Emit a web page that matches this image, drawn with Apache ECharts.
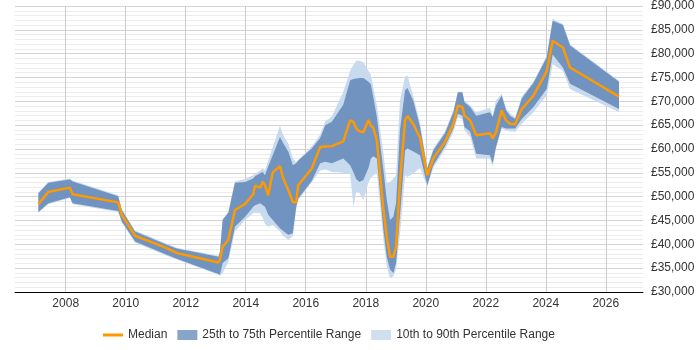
<!DOCTYPE html>
<html>
<head>
<meta charset="utf-8">
<script src="https://cdn.jsdelivr.net/npm/echarts@6/dist/echarts.min.js"></script>
<style>
  html, body { margin: 0; padding: 0; background: #fff; }
  #chart { width: 700px; height: 350px; }
</style>
</head>
<body>
<div id="chart"></div>
<script>
  // dates as decimal years
  const dates = [2007.09, 2007.42, 2008.14, 2008.23, 2009.75, 2009.87, 2010.31, 2011.37, 2011.70, 2013.09,
    2013.14, 2013.23, 2013.42, 2013.64, 2013.98, 2014.25, 2014.31, 2014.48, 2014.57, 2014.64,
    2014.75, 2014.90, 2015.14, 2015.25, 2015.42, 2015.57, 2015.68, 2015.75, 2016.20, 2016.48,
    2016.65, 2016.87, 2017.25, 2017.48, 2017.59, 2017.68, 2017.79, 2017.92, 2018.09, 2018.17,
    2018.25, 2018.37, 2018.59, 2018.70, 2018.81, 2018.92, 2019.01, 2019.14, 2019.31, 2019.39,
    2019.59, 2019.81, 2020.05, 2020.25, 2020.64, 2020.92, 2021.07, 2021.22, 2021.29, 2021.48,
    2021.68, 2022.14, 2022.23, 2022.34, 2022.53, 2022.68, 2022.81, 2022.98, 2023.20, 2023.59,
    2024.03, 2024.23, 2024.57, 2024.81, 2026.44]

  const median = [48400, 51000, 51900, 50500, 48800, 46200, 41800, 39200, 38200, 36200,
    36800, 39500, 40900, 47200, 48500, 50500, 52300, 51900, 53100, 52400,
    50300, 55100, 56400, 53800, 51400, 48900, 48800, 52400, 55900, 60400,
    60500, 60600, 61600, 66000, 65700, 64300, 63700, 63500, 66100, 64900,
    64500, 61800, 47200, 41600, 37400, 37400, 39500, 53000, 66000, 66900,
    65200, 62300, 54500, 58000, 61500, 65300, 69100, 68800, 67000, 66000,
    62900, 63300, 62200, 63500, 68100, 66000, 65300, 65200, 68400, 71200,
    76300, 82700, 81300, 77100, 71000]

  const p25 = [46800, 48600, 49900, 48600, 47000, 44800, 40600, 37800, 37000, 33800,
    33600, 36100, 37100, 43700, 45800, 47900, 48200, 48600, 48200, 47900,
    46200, 45100, 43400, 42800, 42000, 42300, 47800, 49600, 53300, 57000,
    57300, 57000, 58000, 56600, 55100, 53700, 53100, 53500, 56000, 58000,
    58500, 58000, 43000, 37400, 34700, 34000, 36100, 46000, 59700, 60100,
    59500, 58700, 52400, 56600, 60600, 64300, 67400, 67000, 64600, 63600,
    59000, 58700, 57000, 60400, 64600, 64300, 64300, 64300, 66300, 68800,
    72600, 79800, 77100, 73700, 68400]

  const p75 = [50700, 52900, 53600, 53200, 50100, 47200, 42700, 39900, 39100, 37400,
    38400, 45100, 46600, 52900, 53100, 53800, 54300, 54900, 55200, 54500,
    56400, 58700, 62500, 61200, 59400, 56600, 57000, 57600, 60100, 62300,
    65000, 65700, 69300, 74400, 74700, 74800, 74900, 74900, 74100, 73600,
    70900, 66700, 55500, 49300, 45100, 45800, 48600, 64000, 72300, 72800,
    70000, 64600, 55900, 59700, 63300, 67700, 71900, 71900, 69800, 68800,
    67000, 67700, 66700, 69100, 71200, 68100, 67000, 66300, 70600, 73900,
    79200, 86900, 86000, 81700, 74100]

  const p10 = [46600, 48400, 49700, 48400, 46800, 44600, 40400, 37600, 36800, 33600,
    33400, 34000, 36300, 42700, 45100, 46500, 46600, 46500, 45500, 44300,
    43700, 44100, 42700, 41800, 40900, 41800, 47300, 49300, 53000, 55500,
    55700, 55200, 55000, 54700, 47900, 51000, 50800, 49300, 53000, 53900,
    54500, 54900, 40900, 35400, 32900, 33300, 34700, 42000, 54500, 54100,
    54900, 56000, 52100, 56000, 59900, 63500, 66700, 66200, 63900, 62500,
    58000, 58000, 56300, 60100, 64300, 63900, 63700, 63600, 65300, 67700,
    71200, 77800, 76400, 72600, 67700]

  const p90 = [50900, 53100, 53800, 53400, 50300, 47400, 42900, 40100, 39300, 37600,
    38600, 45300, 46800, 53200, 53700, 54500, 54800, 55500, 55900, 55500,
    57600, 60400, 64900, 62900, 61100, 58000, 57200, 57700, 60600, 63000,
    65800, 66800, 72000, 76400, 77700, 78500, 78500, 78200, 76400, 75600,
    72900, 69100, 59000, 52800, 53100, 53800, 54500, 70200, 75200, 75400,
    70900, 65500, 56200, 60100, 63700, 68100, 72000, 72000, 70200, 69100,
    67700, 68600, 67000, 70200, 71600, 68500, 67500, 66600, 71000, 74100,
    79600, 87300, 86200, 81900, 74300]

  const yearTicks = [2008, 2010, 2012, 2014, 2016, 2018, 2020, 2022, 2024, 2026]

  const font = 'Liberation Sans, Arial, sans-serif'
  const darkBand = '#7193bf'
  const lightBand = '#c8daed'

  // 区间带：用 custom 系列画成一个多边形（上沿 + 反向下沿）
  function band(name, lo, hi, color) {
    return {
      name: name,
      type: 'custom',
      silent: true,
      itemStyle: { color: color },
      encode: { x: 0, y: [1, 2] },
      data: dates.map((d, i) => [d, lo[i], hi[i]]),
      renderItem: (params, api) => {
        if (params.dataIndex !== 0) return null
        const top = dates.map((d, i) => api.coord([d, hi[i]]))
        const bottom = dates.map((d, i) => api.coord([d, lo[i]])).reverse()
        return {
          type: 'polygon',
          shape: { points: top.concat(bottom) },
          style: { fill: color }
        }
      }
    }
  }

  const chart = echarts.init(document.getElementById('chart'))
  chart.setOption({
    animation: false,
    textStyle: { fontFamily: font },
    grid: { left: 15, right: 57, top: 5, bottom: 58 },
    legend: {
      left: 98,
      top: 324,
      itemWidth: 20,
      itemHeight: 10,
      itemGap: 10,
      textStyle: { fontFamily: font, fontSize: 12, color: '#333' },
      data: [
        { name: 'Median', icon: 'path://M0,0H20V3H0Z', itemStyle: { color: '#ff9900' } },
        { name: '25th to 75th Percentile Range', icon: 'rect', itemStyle: { color: '#87a5c9' } },
        { name: '10th to 90th Percentile Range', icon: 'rect', itemStyle: { color: '#cfdff0' } }
      ]
    },
    xAxis: {
      type: 'value',
      min: 2006.31,
      max: 2027.24,
      axisLine: { lineStyle: { color: '#000', width: 1 } },
      axisTick: { show: false, customValues: yearTicks },
      axisLabel: {
        customValues: yearTicks,
        color: '#333',
        fontSize: 12,
        fontFamily: font,
        margin: 6,
        formatter: (v) => String(v)
      },
      splitLine: { show: true, lineStyle: { color: '#cccccc' } }
    },
    yAxis: {
      type: 'value',
      position: 'right',
      min: 30000,
      max: 90000,
      interval: 5000,
      axisLine: { show: false },
      axisTick: { show: false },
      axisLabel: {
        color: '#333',
        fontSize: 12,
        fontFamily: font,
        margin: 8,
        formatter: (v) => '£' + v.toLocaleString('en-GB')
      },
      splitLine: { lineStyle: { color: '#d4d4d4' } },
      minorTick: { show: false, splitNumber: 5 },
      minorSplitLine: { show: true, lineStyle: { color: '#ececec' } }
    },
    series: [
      band('10th to 90th Percentile Range', p10, p90, lightBand),
      band('25th to 75th Percentile Range', p25, p75, darkBand),
      {
        name: 'Median',
        type: 'line',
        symbol: 'none',
        silent: true,
        itemStyle: { color: '#ff9900' },
        lineStyle: { color: '#ff9900', width: 2.5 },
        data: dates.map((d, i) => [d, median[i]])
      }
    ]
  })
</script>
</body>
</html>
